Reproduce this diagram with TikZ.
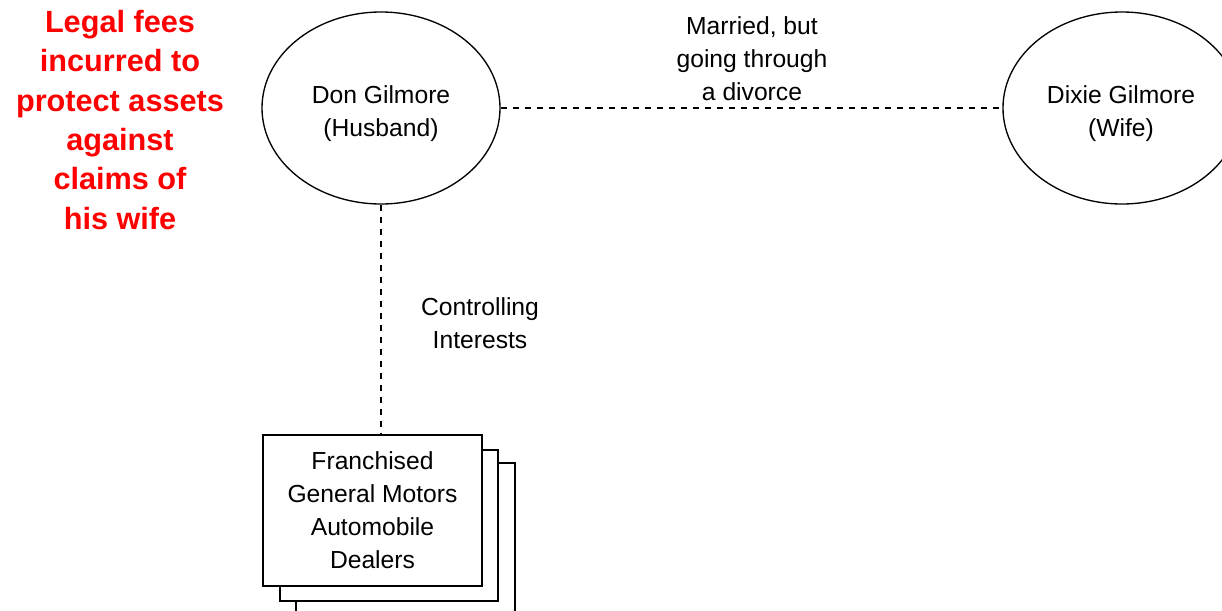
\documentclass[tikz,border=0pt]{standalone}
\usepackage{fontspec}
\setmainfont{Liberation Sans}
\usetikzlibrary{shapes.geometric}
\definecolor{legalred}{RGB}{255,0,0}
\begin{document}
\begin{tikzpicture}[x=0.75pt,y=-0.75pt,
  person/.style={draw, line width=1pt, ellipse, minimum width=178.5pt, minimum height=144pt, inner sep=0pt, align=center, font=\fontsize{18.5}{24.75}\selectfont},
  dealer/.style={draw, line width=1pt, fill=white, rectangle, minimum width=164.25pt, minimum height=113.25pt, inner sep=0pt, align=center, font=\fontsize{18.5}{24.75}\selectfont},
  backbox/.style={draw, line width=1pt, fill=white},
  rel/.style={line width=1.1pt, dash pattern=on 5pt off 4pt},
  lbl/.style={align=center, inner sep=0pt, font=\fontsize{18.5}{24.75}\selectfont},
  note/.style={align=center, inner sep=0pt, text=legalred, font=\bfseries\fontsize{23}{29.5}\selectfont}]
\useasboundingbox (0,0) rectangle (1222,611);
% stacked back boxes
\draw[backbox] (296,463) rectangle (515,616);
\draw[backbox] (280,450) rectangle (498,601);
\node[dealer] (box) at (372.5,510.5) {Franchised\\General Motors\\Automobile\\Dealers};
\node[person] (don) at (381,108) {};
\node[person] (dixie) at (1122,108) {};
\node[lbl] (dontext) at (381,114) {Don Gilmore\\(Husband)};
\node[lbl] (dixietext) at (1121,114) {Dixie Gilmore\\(Wife)};
\draw[rel] (don.east) -- (dixie.west);
\draw[rel] (don.south) -- (don.south |- box.north);
\node[lbl] (married) at (752,59) {Married, but\\going through\\a divorce};
\node[lbl] (ctrl) at (480,323) {Controlling\\Interests};
\node[note] (fees) at (120,120) {Legal fees\\incurred to\\protect assets\\against\\claims of\\his wife};
\end{tikzpicture}
\end{document}
